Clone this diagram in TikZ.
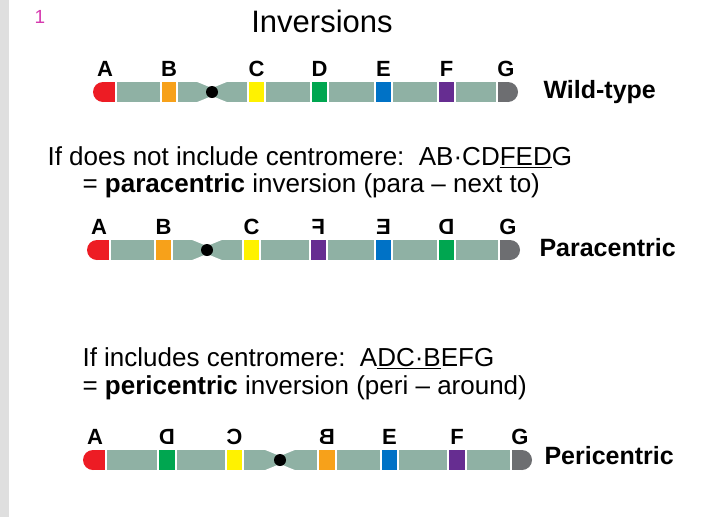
\documentclass[tikz,border=0pt]{standalone}
\usepackage{fontspec}
\setmainfont{Liberation Sans}
\usepackage{graphicx}
\definecolor{chr}{HTML}{8FB1A4}
\definecolor{cA}{HTML}{ED1C24}
\definecolor{cB}{HTML}{F7A11A}
\definecolor{cC}{HTML}{FFF200}
\definecolor{cD}{HTML}{00A650}
\definecolor{cE}{HTML}{0072C6}
\definecolor{cF}{HTML}{662D91}
\definecolor{cG}{HTML}{6D6E71}
\definecolor{num}{HTML}{D63AAF}
\newcommand{\mirr}[1]{\scalebox{-1}[1]{#1}}
% band: x1, x2, y, color, label
\newcommand{\cband}[5]{%
  \fill[#4] (#1,#3-10) rectangle (#2,#3+10);
  \draw[white,line width=1.3pt] (#1,#3-10) -- (#1,#3+10) (#2,#3-10) -- (#2,#3+10);
  \node[lab] at ({(#1+#2)/2},#3-23) {#5};}
\newcommand{\cends}[8]{% xl, xr, y, lcol, rcol, llabel, rlabel, centromere x
  \fill[chr] (#1+10,#3-10) rectangle (#2-10,#3+10);
  \fill[#4] (#1+10,#3) circle[radius=10];
  \fill[#4] (#1+10,#3-10) rectangle (#1+23,#3+10);
  \draw[white,line width=1.3pt] (#1+23,#3-10) -- (#1+23,#3+10);
  \node[lab] at (#1+12,#3-23) {#6};
  \fill[#5] (#2-10,#3) circle[radius=10];
  \fill[#5] (#2-10,#3-10) rectangle (#2-21,#3+10);
  \draw[white,line width=1.3pt] (#2-21,#3-10) -- (#2-21,#3+10);
  \node[lab] at (#2-12,#3-23) {#7};
  \fill[white] (#8-16,#3-10.5) -- (#8,#3-4) -- (#8+16,#3-10.5) -- cycle;
  \fill[white] (#8-16,#3+10.5) -- (#8,#3+4) -- (#8+16,#3+10.5) -- cycle;
  \fill[black] (#8,#3) circle[radius=6];}
\begin{document}
\begin{tikzpicture}[x=1pt,y=-1pt,
  lab/.style={font=\fontsize{22}{22}\selectfont\bfseries},
  big/.style={font=\fontsize{25}{25}\selectfont\bfseries,anchor=west},
  txt/.style={font=\fontsize{26}{30}\selectfont,anchor=west}]
\useasboundingbox (0,0) rectangle (728,517);
\fill[white] (0,0) rectangle (728,517);
\fill[gray!25] (0,0) rectangle (9,517);
\node[num,font=\fontsize{19}{19}\selectfont] (n1) at (40,17) {1};
\node[font=\fontsize{31}{31}\selectfont] (title) at (322,21) {Inversions};
% chromosome 1
\cends{93}{518}{92}{cA}{cG}{A}{G}{212}
\cband{161}{177}{92}{cB}{B}
\cband{248}{265}{92}{cC}{C}
\cband{311}{328}{92}{cD}{D}
\cband{375}{392}{92}{cE}{E}
\cband{438}{455}{92}{cF}{F}
\node[big] (wt) at (540,92) {Wild-type};
\node[txt] (t1) at (44,157) {If does not include centromere:\ \ AB·CD\underline{FED}G};
\node[txt] (t2) at (79,186) {= \textbf{paracentric} inversion (para – next to)};
% chromosome 2
\cends{87}{520}{250}{cA}{cG}{A}{G}{207}
\cband{155}{172}{250}{cB}{B}
\cband{243}{260}{250}{cC}{C}
\cband{310}{327}{250}{cF}{\mirr{F}}
\cband{375}{392}{250}{cE}{\mirr{E}}
\cband{438}{455}{250}{cD}{\mirr{D}}
\node[big] (pa) at (536,248) {Paracentric};
\node[txt] (t3) at (79,358) {If includes centromere:\ \ A\underline{DC·B}EFG};
\node[txt] (t4) at (79,388) {= \textbf{pericentric} inversion (peri – around)};
% chromosome 3
\cends{83}{532}{460}{cA}{cG}{A}{G}{280}
\cband{158}{176}{460}{cD}{\mirr{D}}
\cband{226}{243}{460}{cC}{\mirr{C}}
\cband{318}{336}{460}{cB}{\mirr{B}}
\cband{381}{398}{460}{cE}{E}
\cband{448}{466}{460}{cF}{F}
\node[big] (pe) at (541,456) {Pericentric};
\end{tikzpicture}
\end{document}
